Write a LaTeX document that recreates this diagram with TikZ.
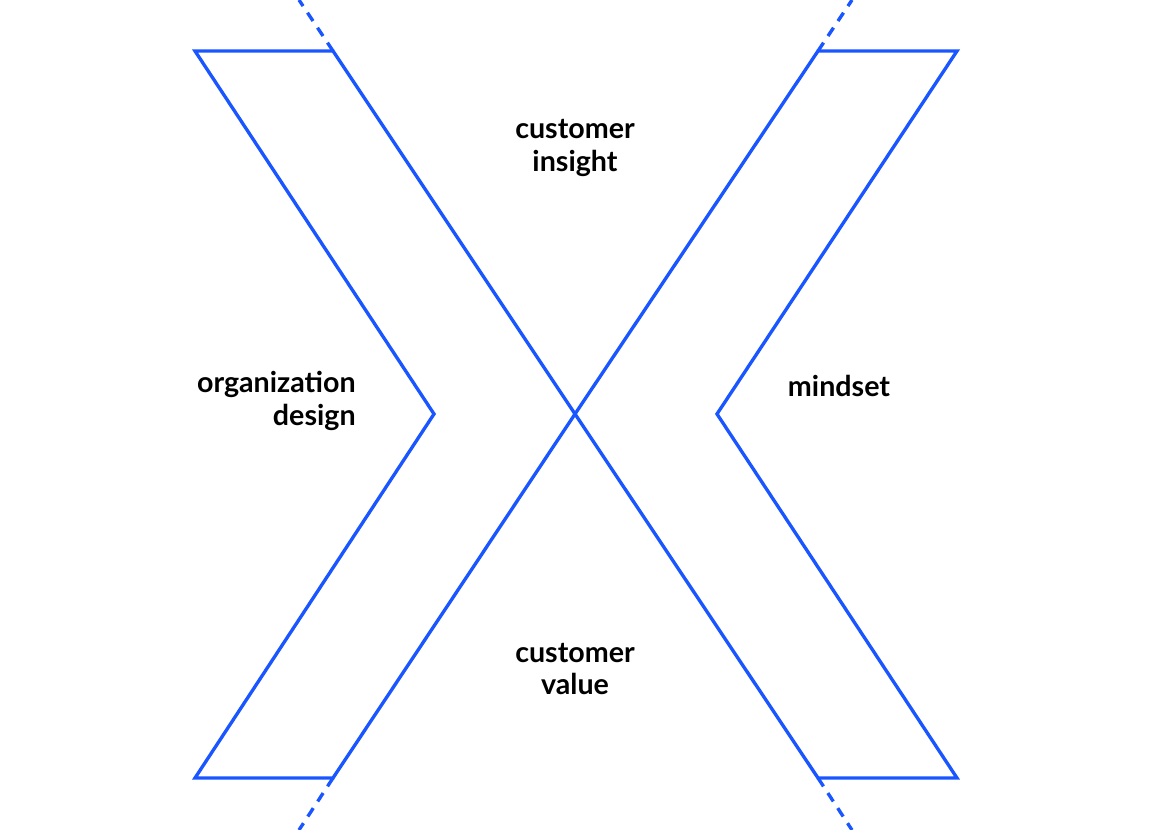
\documentclass[tikz,border=0pt]{standalone}
\usepackage{fontspec}
\setmainfont{Lato}
\definecolor{chevblue}{HTML}{1A56FF}
\tikzset{
  chev/.style={draw=chevblue, line width=1.9pt, line join=miter},
  guide/.style={draw=chevblue, line width=1.9pt, dash pattern=on 0.2cm off 0.16cm},
  lbl/.style={font=\bfseries\fontsize{16.3}{18.6}\selectfont, align=center, inner sep=0pt}
}

\begin{document}
\begin{tikzpicture}[x=0.02cm, y=-0.02cm]
        \useasboundingbox (0,0) rectangle (1150,830);
        % Left chevron
        \draw[chev] (195,51) -- (333,51) -- (575,414) -- (333,778) -- (195,778) -- (434,414) -- cycle;
        % Right chevron
        \draw[chev] (818,51) -- (957,51) -- (717,414) -- (957,778) -- (818,778) -- (575,414) -- cycle;
        % Dashed continuations of the inner edges
        \draw[guide] (333,51) -- (299,0);
        \draw[guide] (818,51) -- (852,0);
        \draw[guide] (333,778) -- (299,830);
        \draw[guide] (818,778) -- (852,830);
        % Labels
        \node[lbl] (insight) at (575,148) {customer\\insight};
        \node[lbl] (value) at (575,669) {customer\\value};
        \node[lbl, align=right, anchor=east] (orgdesign) at (356,401) {organization\\design};
        \node[lbl] (mindset) at (839,386) {mindset};
      \end{tikzpicture}
\end{document}
